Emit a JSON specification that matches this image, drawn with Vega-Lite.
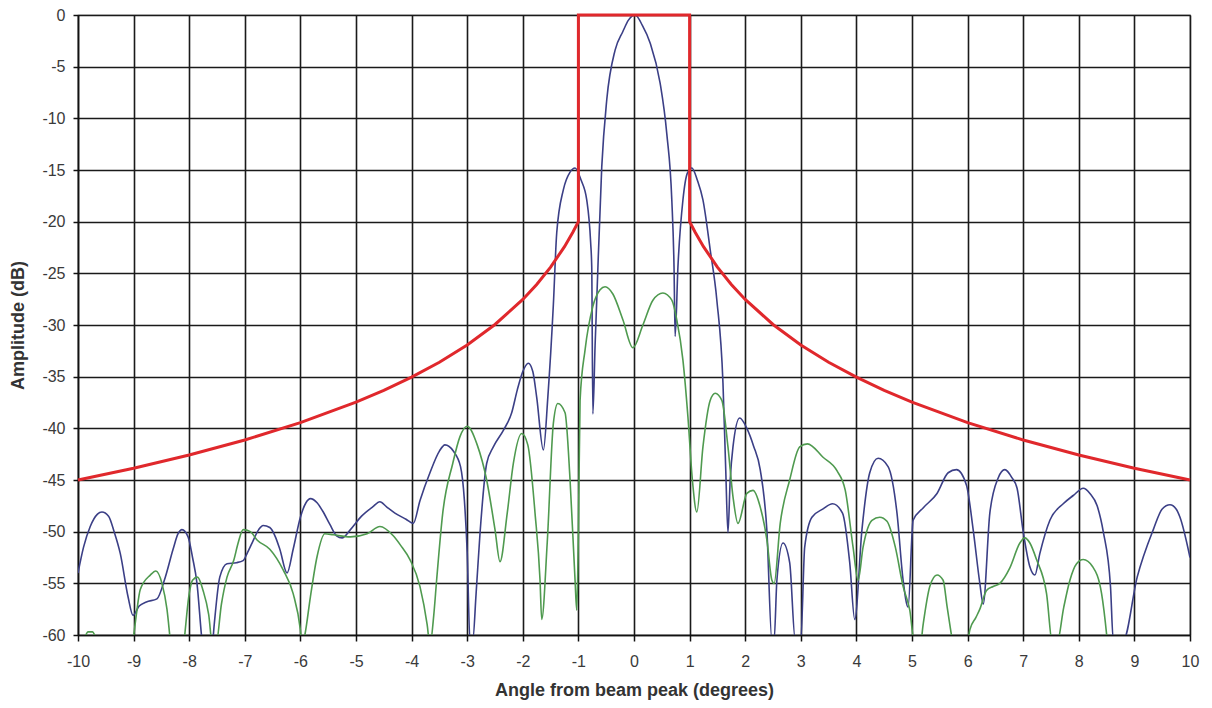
{
  "$schema": "https://vega.github.io/schema/vega-lite/v6.json",
  "autosize": {"type": "none"},
  "padding": {"left": 78, "top": 15, "right": 22, "bottom": 73},
  "width": 1112,
  "height": 620,
  "background": "white",
  "config": {
    "view": {"stroke": "#555", "strokeWidth": 1.2},
    "font": "Liberation Sans"
  },
  "datasets": {
    "mask": [
      {"i": 1, "angle": -10, "dB": -45},
      {"i": 2, "angle": -9, "dB": -43.86},
      {"i": 3, "angle": -8, "dB": -42.58},
      {"i": 4, "angle": -7, "dB": -41.13},
      {"i": 5, "angle": -6, "dB": -39.45},
      {"i": 6, "angle": -5, "dB": -37.47},
      {"i": 7, "angle": -4.5, "dB": -36.33},
      {"i": 8, "angle": -4, "dB": -35.05},
      {"i": 9, "angle": -3.5, "dB": -33.6},
      {"i": 10, "angle": -3, "dB": -31.93},
      {"i": 11, "angle": -2.5, "dB": -29.95},
      {"i": 12, "angle": -2, "dB": -27.53},
      {"i": 13, "angle": -1.75, "dB": -26.08},
      {"i": 14, "angle": -1.5, "dB": -24.4},
      {"i": 15, "angle": -1.25, "dB": -22.42},
      {"i": 16, "angle": -1.1, "dB": -21.03},
      {"i": 17, "angle": -1, "dB": -20},
      {"i": 18, "angle": -1, "dB": 0},
      {"i": 19, "angle": 1, "dB": 0},
      {"i": 20, "angle": 1, "dB": -20},
      {"i": 21, "angle": 1.1, "dB": -21.03},
      {"i": 22, "angle": 1.25, "dB": -22.42},
      {"i": 23, "angle": 1.5, "dB": -24.4},
      {"i": 24, "angle": 1.75, "dB": -26.08},
      {"i": 25, "angle": 2, "dB": -27.53},
      {"i": 26, "angle": 2.5, "dB": -29.95},
      {"i": 27, "angle": 3, "dB": -31.93},
      {"i": 28, "angle": 3.5, "dB": -33.6},
      {"i": 29, "angle": 4, "dB": -35.05},
      {"i": 30, "angle": 4.5, "dB": -36.33},
      {"i": 31, "angle": 5, "dB": -37.47},
      {"i": 32, "angle": 6, "dB": -39.45},
      {"i": 33, "angle": 7, "dB": -41.13},
      {"i": 34, "angle": 8, "dB": -42.58},
      {"i": 35, "angle": 9, "dB": -43.86},
      {"i": 36, "angle": 10, "dB": -45}
    ],
    "blue": [
      {"angle": -10, "dB": -54}, {"angle": -9.9, "dB": -51.5}, {"angle": -9.78, "dB": -49.5},
      {"angle": -9.65, "dB": -48.3}, {"angle": -9.57, "dB": -48.1}, {"angle": -9.45, "dB": -48.5},
      {"angle": -9.35, "dB": -50}, {"angle": -9.24, "dB": -52.1}, {"angle": -9.1, "dB": -56.3},
      {"angle": -9.01, "dB": -58.1}, {"angle": -8.9, "dB": -57.2}, {"angle": -8.77, "dB": -56.8},
      {"angle": -8.58, "dB": -56.5}, {"angle": -8.43, "dB": -54.4}, {"angle": -8.29, "dB": -51.7},
      {"angle": -8.2, "dB": -50.2}, {"angle": -8.13, "dB": -49.8}, {"angle": -8.02, "dB": -50.5},
      {"angle": -7.94, "dB": -52.5}, {"angle": -7.86, "dB": -55}, {"angle": -7.77, "dB": -60.5},
      {"angle": -7.7, "dB": -63}, {"angle": -7.6, "dB": -62}, {"angle": -7.55, "dB": -59},
      {"angle": -7.45, "dB": -54.4}, {"angle": -7.32, "dB": -53.1}, {"angle": -7.15, "dB": -53},
      {"angle": -7.03, "dB": -52.8}, {"angle": -6.95, "dB": -52}, {"angle": -6.87, "dB": -51.1},
      {"angle": -6.75, "dB": -49.8}, {"angle": -6.67, "dB": -49.4}, {"angle": -6.55, "dB": -49.6},
      {"angle": -6.45, "dB": -50.5}, {"angle": -6.37, "dB": -51.7}, {"angle": -6.24, "dB": -54},
      {"angle": -6.13, "dB": -51.7}, {"angle": -6.0, "dB": -48.6}, {"angle": -5.9, "dB": -47.2},
      {"angle": -5.82, "dB": -46.8}, {"angle": -5.7, "dB": -47.2}, {"angle": -5.6, "dB": -48},
      {"angle": -5.47, "dB": -49.3}, {"angle": -5.35, "dB": -50.4}, {"angle": -5.25, "dB": -50.6},
      {"angle": -5.1, "dB": -49.8}, {"angle": -4.9, "dB": -48.5}, {"angle": -4.7, "dB": -47.6},
      {"angle": -4.57, "dB": -47.1}, {"angle": -4.45, "dB": -47.6}, {"angle": -4.3, "dB": -48.2},
      {"angle": -4.1, "dB": -48.8}, {"angle": -3.97, "dB": -49.2}, {"angle": -3.85, "dB": -47},
      {"angle": -3.67, "dB": -44.3}, {"angle": -3.5, "dB": -42.2}, {"angle": -3.4, "dB": -41.6},
      {"angle": -3.25, "dB": -42.2}, {"angle": -3.12, "dB": -43.7}, {"angle": -3.05, "dB": -47},
      {"angle": -3.0, "dB": -52}, {"angle": -2.95, "dB": -60.5}, {"angle": -2.9, "dB": -60.5},
      {"angle": -2.84, "dB": -56}, {"angle": -2.77, "dB": -50.2}, {"angle": -2.65, "dB": -43.4},
      {"angle": -2.53, "dB": -41.8}, {"angle": -2.35, "dB": -40.2}, {"angle": -2.2, "dB": -38.5},
      {"angle": -2.1, "dB": -36.3}, {"angle": -2.0, "dB": -34.5}, {"angle": -1.9, "dB": -33.7},
      {"angle": -1.82, "dB": -34.5}, {"angle": -1.75, "dB": -37}, {"angle": -1.63, "dB": -42.1},
      {"angle": -1.55, "dB": -37}, {"angle": -1.45, "dB": -28}, {"angle": -1.39, "dB": -21.1},
      {"angle": -1.27, "dB": -16.9}, {"angle": -1.15, "dB": -15.2}, {"angle": -1.06, "dB": -14.8},
      {"angle": -0.95, "dB": -16}, {"angle": -0.85, "dB": -17.9}, {"angle": -0.78, "dB": -22},
      {"angle": -0.76, "dB": -24.4}, {"angle": -0.74, "dB": -38.6}, {"angle": -0.7, "dB": -32},
      {"angle": -0.67, "dB": -27.6}, {"angle": -0.58, "dB": -14.7}, {"angle": -0.49, "dB": -8.2},
      {"angle": -0.34, "dB": -3.4}, {"angle": -0.2, "dB": -1.6}, {"angle": -0.1, "dB": -0.5},
      {"angle": 0.02, "dB": 0}, {"angle": 0.15, "dB": -1}, {"angle": 0.29, "dB": -2.7},
      {"angle": 0.47, "dB": -6.6}, {"angle": 0.59, "dB": -11.5}, {"angle": 0.68, "dB": -17.9},
      {"angle": 0.72, "dB": -24.4}, {"angle": 0.74, "dB": -31.1}, {"angle": 0.79, "dB": -24.4},
      {"angle": 0.88, "dB": -17.9}, {"angle": 0.96, "dB": -15.3}, {"angle": 1.04, "dB": -14.8},
      {"angle": 1.14, "dB": -16}, {"angle": 1.24, "dB": -17.9}, {"angle": 1.37, "dB": -22.7},
      {"angle": 1.49, "dB": -27.6}, {"angle": 1.6, "dB": -35.6}, {"angle": 1.65, "dB": -44},
      {"angle": 1.69, "dB": -50.1}, {"angle": 1.73, "dB": -45}, {"angle": 1.78, "dB": -41.8},
      {"angle": 1.9, "dB": -39}, {"angle": 2.03, "dB": -40}, {"angle": 2.15, "dB": -41.7},
      {"angle": 2.27, "dB": -44}, {"angle": 2.39, "dB": -49.9}, {"angle": 2.48, "dB": -60.5},
      {"angle": 2.52, "dB": -60.5}, {"angle": 2.57, "dB": -54.7}, {"angle": 2.68, "dB": -51.1},
      {"angle": 2.8, "dB": -53}, {"angle": 2.9, "dB": -60.5}, {"angle": 3.0, "dB": -60.5},
      {"angle": 3.07, "dB": -51.5}, {"angle": 3.2, "dB": -48.6}, {"angle": 3.4, "dB": -47.8},
      {"angle": 3.57, "dB": -47.3}, {"angle": 3.75, "dB": -48.2}, {"angle": 3.88, "dB": -53},
      {"angle": 3.97, "dB": -58.5}, {"angle": 4.1, "dB": -49.8}, {"angle": 4.24, "dB": -44.3},
      {"angle": 4.39, "dB": -42.9}, {"angle": 4.57, "dB": -43.7}, {"angle": 4.73, "dB": -48.2},
      {"angle": 4.84, "dB": -54.7}, {"angle": 4.93, "dB": -57.3}, {"angle": 5.02, "dB": -48.9},
      {"angle": 5.2, "dB": -47.7}, {"angle": 5.45, "dB": -46.3}, {"angle": 5.65, "dB": -44.3},
      {"angle": 5.8, "dB": -44}, {"angle": 5.98, "dB": -45.5}, {"angle": 6.1, "dB": -49.8},
      {"angle": 6.22, "dB": -55}, {"angle": 6.28, "dB": -57}, {"angle": 6.4, "dB": -48.2},
      {"angle": 6.55, "dB": -44.8}, {"angle": 6.67, "dB": -44}, {"angle": 6.8, "dB": -44.8},
      {"angle": 6.89, "dB": -45.8}, {"angle": 7.0, "dB": -50}, {"angle": 7.12, "dB": -53.4},
      {"angle": 7.21, "dB": -54.2}, {"angle": 7.3, "dB": -52.1}, {"angle": 7.48, "dB": -48.9},
      {"angle": 7.72, "dB": -47.3}, {"angle": 7.9, "dB": -46.5}, {"angle": 8.08, "dB": -45.8},
      {"angle": 8.2, "dB": -46.3}, {"angle": 8.33, "dB": -47.5}, {"angle": 8.44, "dB": -50},
      {"angle": 8.57, "dB": -55.3}, {"angle": 8.62, "dB": -60.5}, {"angle": 8.8, "dB": -60.5},
      {"angle": 9.05, "dB": -54.4}, {"angle": 9.34, "dB": -49.8}, {"angle": 9.5, "dB": -47.8},
      {"angle": 9.64, "dB": -47.4}, {"angle": 9.75, "dB": -47.8}, {"angle": 9.82, "dB": -48.6},
      {"angle": 10, "dB": -52.5}
    ],
    "green": [
      {"angle": -10, "dB": -63}, {"angle": -9.88, "dB": -60.3}, {"angle": -9.82, "dB": -59.7},
      {"angle": -9.74, "dB": -59.7}, {"angle": -9.68, "dB": -60.3}, {"angle": -9.5, "dB": -65},
      {"angle": -9.2, "dB": -65}, {"angle": -9.02, "dB": -61}, {"angle": -8.95, "dB": -58},
      {"angle": -8.88, "dB": -55.6}, {"angle": -8.7, "dB": -54.2}, {"angle": -8.6, "dB": -53.8},
      {"angle": -8.49, "dB": -55}, {"angle": -8.4, "dB": -57.5}, {"angle": -8.33, "dB": -61},
      {"angle": -8.2, "dB": -65}, {"angle": -8.1, "dB": -61}, {"angle": -8.0, "dB": -56},
      {"angle": -7.94, "dB": -54.7}, {"angle": -7.85, "dB": -54.4}, {"angle": -7.75, "dB": -55.7},
      {"angle": -7.65, "dB": -58}, {"angle": -7.58, "dB": -61}, {"angle": -7.52, "dB": -61},
      {"angle": -7.42, "dB": -57}, {"angle": -7.32, "dB": -54.4}, {"angle": -7.2, "dB": -52.8},
      {"angle": -7.12, "dB": -51.1}, {"angle": -7.03, "dB": -49.8}, {"angle": -6.9, "dB": -50},
      {"angle": -6.78, "dB": -50.8}, {"angle": -6.55, "dB": -51.7}, {"angle": -6.31, "dB": -53.7},
      {"angle": -6.13, "dB": -56}, {"angle": -6.0, "dB": -59.5}, {"angle": -5.97, "dB": -61},
      {"angle": -5.92, "dB": -60}, {"angle": -5.82, "dB": -56.3}, {"angle": -5.7, "dB": -52.4},
      {"angle": -5.56, "dB": -50.2}, {"angle": -5.41, "dB": -50.3}, {"angle": -5.1, "dB": -50.5},
      {"angle": -4.8, "dB": -50.2}, {"angle": -4.57, "dB": -49.5}, {"angle": -4.33, "dB": -50.4},
      {"angle": -4.2, "dB": -51.3}, {"angle": -4.03, "dB": -52.7}, {"angle": -3.85, "dB": -55.3},
      {"angle": -3.72, "dB": -59}, {"angle": -3.67, "dB": -61}, {"angle": -3.6, "dB": -58},
      {"angle": -3.55, "dB": -54.7}, {"angle": -3.44, "dB": -48.2}, {"angle": -3.26, "dB": -43.4},
      {"angle": -3.13, "dB": -40.8}, {"angle": -3.0, "dB": -39.8}, {"angle": -2.82, "dB": -41.6},
      {"angle": -2.65, "dB": -45}, {"angle": -2.5, "dB": -49.8}, {"angle": -2.41, "dB": -52.9},
      {"angle": -2.28, "dB": -48.2}, {"angle": -2.17, "dB": -43.4}, {"angle": -2.02, "dB": -40.5},
      {"angle": -1.91, "dB": -41.6}, {"angle": -1.78, "dB": -48.2}, {"angle": -1.69, "dB": -54.7},
      {"angle": -1.66, "dB": -58.5}, {"angle": -1.56, "dB": -51}, {"angle": -1.45, "dB": -39.5},
      {"angle": -1.37, "dB": -37.6}, {"angle": -1.24, "dB": -38.5}, {"angle": -1.15, "dB": -45},
      {"angle": -1.06, "dB": -54.7}, {"angle": -1.03, "dB": -57.6}, {"angle": -1.0, "dB": -50},
      {"angle": -0.97, "dB": -37.3}, {"angle": -0.88, "dB": -32.4}, {"angle": -0.74, "dB": -28.2},
      {"angle": -0.61, "dB": -26.6}, {"angle": -0.52, "dB": -26.3}, {"angle": -0.38, "dB": -27},
      {"angle": -0.2, "dB": -29.5}, {"angle": -0.02, "dB": -32.2}, {"angle": 0.16, "dB": -30},
      {"angle": 0.34, "dB": -27.6}, {"angle": 0.52, "dB": -26.9}, {"angle": 0.68, "dB": -27.6},
      {"angle": 0.77, "dB": -29.5}, {"angle": 0.88, "dB": -33.4}, {"angle": 0.97, "dB": -38.9},
      {"angle": 1.05, "dB": -45}, {"angle": 1.13, "dB": -48.1}, {"angle": 1.24, "dB": -41.8},
      {"angle": 1.37, "dB": -37.3}, {"angle": 1.46, "dB": -36.6}, {"angle": 1.58, "dB": -37.3},
      {"angle": 1.69, "dB": -41.8}, {"angle": 1.78, "dB": -46.6}, {"angle": 1.87, "dB": -49.2},
      {"angle": 2.03, "dB": -46.3}, {"angle": 2.14, "dB": -46}, {"angle": 2.27, "dB": -47.6},
      {"angle": 2.39, "dB": -50.8}, {"angle": 2.48, "dB": -54.7}, {"angle": 2.52, "dB": -55},
      {"angle": 2.63, "dB": -49.2}, {"angle": 2.8, "dB": -45}, {"angle": 2.98, "dB": -41.8},
      {"angle": 3.12, "dB": -41.5}, {"angle": 3.4, "dB": -42.8}, {"angle": 3.65, "dB": -44.1},
      {"angle": 3.8, "dB": -46}, {"angle": 3.94, "dB": -51.5}, {"angle": 4.03, "dB": -54.7},
      {"angle": 4.12, "dB": -51.5}, {"angle": 4.28, "dB": -48.9}, {"angle": 4.42, "dB": -48.6},
      {"angle": 4.55, "dB": -49}, {"angle": 4.7, "dB": -51.5}, {"angle": 4.84, "dB": -55.3},
      {"angle": 4.96, "dB": -57.6}, {"angle": 5.05, "dB": -61}, {"angle": 5.15, "dB": -61},
      {"angle": 5.2, "dB": -59}, {"angle": 5.32, "dB": -55.3}, {"angle": 5.45, "dB": -54.2},
      {"angle": 5.56, "dB": -54.7}, {"angle": 5.63, "dB": -57.2}, {"angle": 5.74, "dB": -61},
      {"angle": 5.9, "dB": -65}, {"angle": 6.04, "dB": -59.5}, {"angle": 6.15, "dB": -58.3},
      {"angle": 6.22, "dB": -57.5}, {"angle": 6.34, "dB": -55.7}, {"angle": 6.46, "dB": -55.3},
      {"angle": 6.58, "dB": -55}, {"angle": 6.76, "dB": -53.5}, {"angle": 6.94, "dB": -51.1},
      {"angle": 7.03, "dB": -50.6}, {"angle": 7.12, "dB": -51.1}, {"angle": 7.24, "dB": -52.7},
      {"angle": 7.42, "dB": -56}, {"angle": 7.53, "dB": -61}, {"angle": 7.6, "dB": -61},
      {"angle": 7.73, "dB": -57.3}, {"angle": 7.84, "dB": -54.7}, {"angle": 7.96, "dB": -53.1},
      {"angle": 8.08, "dB": -52.7}, {"angle": 8.25, "dB": -53.4}, {"angle": 8.41, "dB": -56},
      {"angle": 8.52, "dB": -61}, {"angle": 8.6, "dB": -66}
    ]
  },
  "encoding": {
    "x": {
      "field": "angle", "type": "quantitative",
      "scale": {"domain": [-10, 10], "nice": false, "zero": false},
      "axis": {
        "title": "Angle from beam peak (degrees)",
        "values": [-10, -9, -8, -7, -6, -5, -4, -3, -2, -1, 0, 1, 2, 3, 4, 5, 6, 7, 8, 9, 10],
        "labelExpr": "'' + datum.value",
        "grid": true, "gridColor": "#1a1a1a", "gridWidth": 1.6,
        "domainColor": "#111", "domainWidth": 1.5,
        "tickColor": "#111", "tickSize": 6, "tickWidth": 1.5,
        "labelFont": "Liberation Sans", "labelFontSize": 16, "labelColor": "#3a3a3a",
        "labelPadding": 12, "labelFlush": false,
        "titleFont": "Liberation Sans", "titleFontSize": 18, "titleFontWeight": "bold", "titleColor": "#333",
        "titleY": 55, "titleBaseline": "middle"
      }
    },
    "y": {
      "field": "dB", "type": "quantitative",
      "scale": {"domain": [-60, 0], "nice": false, "zero": false},
      "axis": {
        "title": "Amplitude (dB)",
        "values": [0, -5, -10, -15, -20, -25, -30, -35, -40, -45, -50, -55, -60],
        "labelExpr": "'' + datum.value",
        "grid": true, "gridColor": "#1a1a1a", "gridWidth": 1.6,
        "domainColor": "#111", "domainWidth": 1.5,
        "tickColor": "#111", "tickSize": 5, "tickWidth": 1.5,
        "labelFont": "Liberation Sans", "labelFontSize": 16, "labelColor": "#3a3a3a",
        "labelPadding": 8, "labelFlush": false,
        "titleFont": "Liberation Sans", "titleFontSize": 18, "titleFontWeight": "bold", "titleColor": "#333",
        "titleX": -60, "titleY": 310, "titleBaseline": "middle", "titleAlign": "center", "titleAngle": -90
      }
    }
  },
  "layer": [
    {
      "data": {"name": "blue"},
      "mark": {"type": "line", "color": "#3b3f86", "strokeWidth": 1.6, "clip": true, "interpolate": "monotone"}
    },
    {
      "data": {"name": "green"},
      "mark": {"type": "line", "color": "#4f9a4f", "strokeWidth": 1.6, "clip": true, "interpolate": "monotone"}
    },
    {
      "data": {"name": "mask"},
      "mark": {"type": "line", "color": "#e0282c", "strokeWidth": 3, "clip": false, "interpolate": "linear"},
      "encoding": {"order": {"field": "i", "type": "quantitative"}}
    }
  ]
}
